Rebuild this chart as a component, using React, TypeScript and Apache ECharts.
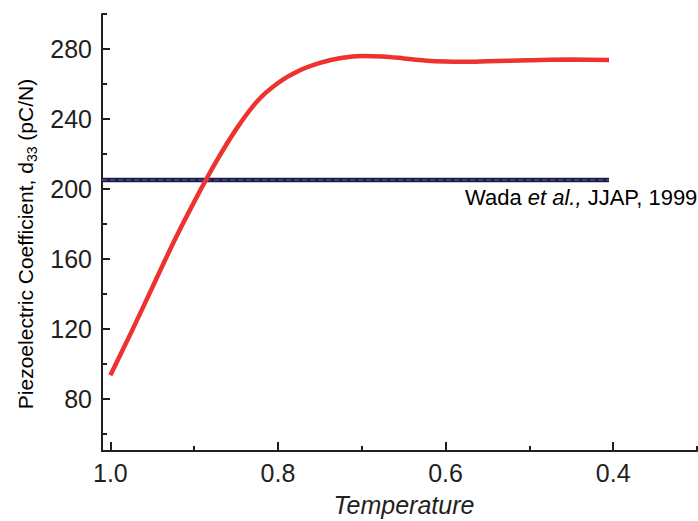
import React, { useEffect, useRef } from "react";
import * as echarts from "echarts";

// Reduced temperature (axis runs from high to low)
const temperature = [1.0, 0.975, 0.95, 0.925, 0.9, 0.875, 0.85, 0.825, 0.8, 0.775, 0.75, 0.725, 0.7, 0.675, 0.65, 0.625, 0.6, 0.575, 0.55, 0.5, 0.45, 0.405];
// Calculated piezoelectric coefficient d33 (pC/N)
const d33 = [93.4, 118, 143.5, 169, 192.5, 214.5, 234, 250, 260.5, 267.5, 272, 274.8, 276, 275.7, 274.6, 273.4, 272.8, 272.7, 273, 273.5, 273.9, 273.7];

// Experimental reference value (Wada et al., JJAP, 1999)
const wadaSpan = [1.01, 0.405];
const wadaValue = 205;

const xMajorTicks = [1.0, 0.8, 0.6, 0.4];
const xMinorTicks = [0.9, 0.7, 0.5, 0.3];
const yMajorTicks = [80, 120, 160, 200, 240, 280];
const yMinorTicks = [60, 100, 140, 180, 220, 260, 300];

const FONT = "'Liberation Sans', Arial, Helvetica, sans-serif";
const INK = "#231f20";

export default function App() {
  const ref = useRef<HTMLDivElement>(null);

  useEffect(() => {
    if (!ref.current) return;
    const chart = echarts.init(ref.current, undefined, { renderer: "svg" });

    const axisLine = { show: true, lineStyle: { color: INK, width: 2 } };
    const xBase = { type: "value", min: 0.3, max: 1.01, inverse: true, position: "bottom", splitLine: { show: false } };
    const yBase = { type: "value", min: 50, max: 300, position: "left", splitLine: { show: false } };

    chart.setOption({
      animation: false,
      backgroundColor: "#ffffff",
      grid: { left: 102, right: 1, top: 14, bottom: 70 },
      xAxis: [
        {
          ...xBase,
          axisLine,
          axisTick: { show: true, inside: true, length: 9, customValues: xMajorTicks, lineStyle: { color: INK, width: 2 } },
          axisLabel: {
            show: true,
            customValues: xMajorTicks,
            formatter: (v: number) => v.toFixed(1),
            fontFamily: FONT,
            fontSize: 25,
            color: INK,
            margin: 9,
          },
        },
        {
          ...xBase,
          axisLine: { show: false },
          axisTick: { show: true, inside: true, length: 5, customValues: xMinorTicks, lineStyle: { color: INK, width: 2 } },
          axisLabel: { show: false },
        },
      ],
      yAxis: [
        {
          ...yBase,
          axisLine,
          axisTick: { show: true, inside: true, length: 8, customValues: yMajorTicks, lineStyle: { color: INK, width: 2 } },
          axisLabel: {
            show: true,
            customValues: yMajorTicks,
            fontFamily: FONT,
            fontSize: 25,
            color: INK,
            margin: 10,
          },
        },
        {
          ...yBase,
          axisLine: { show: false },
          axisTick: { show: true, inside: true, length: 5, customValues: yMinorTicks, lineStyle: { color: INK, width: 2 } },
          axisLabel: { show: false },
        },
      ],
      series: [
        {
          name: "Wada",
          type: "line",
          xAxisIndex: 0,
          yAxisIndex: 0,
          data: wadaSpan.map((x) => [x, wadaValue]),
          symbol: "none",
          lineStyle: { color: "#1f1f45", width: 4.5 },
          z: 2,
        },
        {
          name: "Wada-stripe",
          type: "line",
          xAxisIndex: 0,
          yAxisIndex: 0,
          data: wadaSpan.map((x) => [x, wadaValue]),
          symbol: "none",
          lineStyle: { color: "#4a52aa", width: 1.2, type: [5, 3] },
          z: 3,
        },
        {
          name: "d33",
          type: "line",
          xAxisIndex: 0,
          yAxisIndex: 0,
          data: temperature.map((t, i) => [t, d33[i]]),
          symbol: "none",
          smooth: 0.3,
          lineStyle: { color: "#ee3230", width: 4.5 },
          z: 4,
        },
      ],
      graphic: [
        {
          type: "text",
          x: 25,
          y: 244,
          rotation: Math.PI / 2,
          style: {
            text: "{a|Piezoelectric Coefficient, d}{s|33}{a| (pC/N)}",
            align: "center",
            verticalAlign: "middle",
            rich: {
              a: { fontFamily: FONT, fontSize: 21, lineHeight: 28, color: INK, verticalAlign: "middle" },
              s: { fontFamily: FONT, fontSize: 14, lineHeight: 14, color: INK, verticalAlign: "bottom" },
            },
          },
        },
        {
          type: "text",
          x: 404,
          y: 505,
          style: {
            text: "Temperature",
            fontFamily: FONT,
            fontSize: 25,
            fontStyle: "italic",
            fill: INK,
            align: "center",
            verticalAlign: "middle",
          },
        },
        {
          type: "text",
          x: 465,
          y: 197,
          style: {
            text: "{n|Wada }{i|et al.,}{n| JJAP, 1999}",
            align: "left",
            verticalAlign: "middle",
            rich: {
              n: { fontFamily: FONT, fontSize: 22, color: INK },
              i: { fontFamily: FONT, fontSize: 22, fontStyle: "italic", color: INK },
            },
          },
        },
      ],
    });

    return () => chart.dispose();
  }, []);

  return (
    <div
      ref={ref}
      style={{ position: "fixed", left: 0, top: 0, width: 698, height: 521, background: "#fff" }}
    />
  );
}
